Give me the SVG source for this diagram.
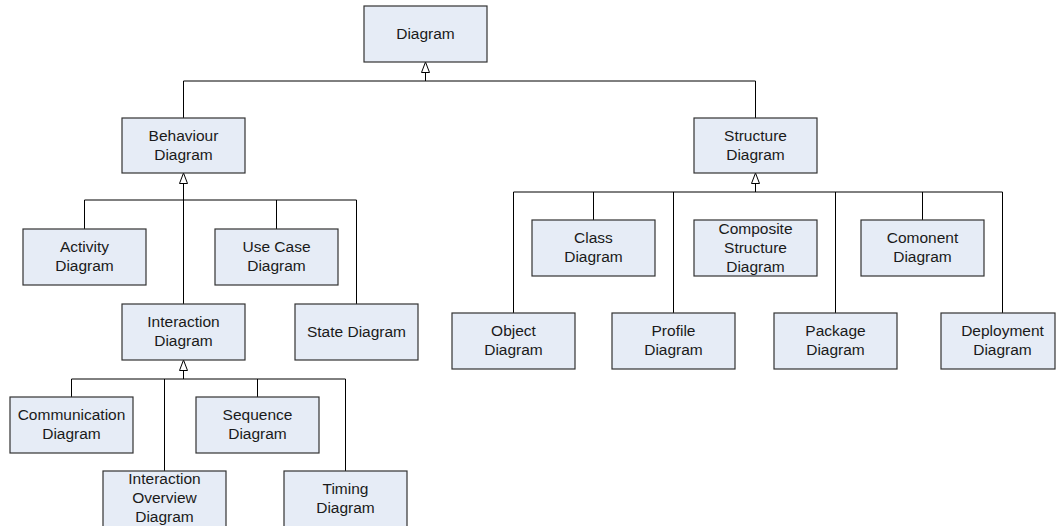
<svg xmlns="http://www.w3.org/2000/svg" width="1056" height="526" viewBox="0 0 1056 526">
  <style>
    .box { fill: #e6ecf6; stroke: #333333; stroke-width: 1.2; }
    .lbl { font-family: "Liberation Sans", Arial, sans-serif; font-size: 15.5px; fill: #1a1a1a; text-anchor: middle; }
    .wire { fill: none; stroke: #000000; stroke-width: 1; }
    .branch { fill: none; stroke: #000000; stroke-width: 1; }
  </style>
  <defs>
    <!-- hollow generalization arrowhead -->
    <marker id="gen" markerUnits="userSpaceOnUse" markerWidth="13" markerHeight="10" refX="11" refY="4.5" orient="auto" viewBox="0 0 13 10">
      <path d="M0.5,0.5 L11,4.5 L0.5,8.5 Z" fill="#ffffff" stroke="#000000" stroke-width="1"/>
    </marker>
  </defs>
  <rect width="1056" height="526" fill="#ffffff"/>

  <!-- connectors -->
  <g id="connectors">
    <!-- Diagram generalization tree -->
    <path class="wire" d="M425.5,81 L425.5,62" marker-end="url(#gen)"/>
    <path class="branch" d="M183.5,118 L183.5,81 L755.5,81 L755.5,118"/>

    <!-- Behaviour Diagram tree -->
    <path class="wire" d="M183.5,304 L183.5,173" marker-end="url(#gen)"/>
    <path class="branch" d="M84.5,229 L84.5,200 L356.5,200 L356.5,304"/>
    <path class="branch" d="M276.5,200 L276.5,229"/>

    <!-- Interaction Diagram tree -->
    <path class="wire" d="M183.5,379 L183.5,360" marker-end="url(#gen)"/>
    <path class="branch" d="M71.5,397 L71.5,379 L345.5,379 L345.5,471"/>
    <path class="branch" d="M164.5,379 L164.5,471"/>
    <path class="branch" d="M257.5,379 L257.5,397"/>

    <!-- Structure Diagram tree -->
    <path class="wire" d="M755.5,192 L755.5,173" marker-end="url(#gen)"/>
    <path class="branch" d="M513.5,313 L513.5,192 L1002.5,192 L1002.5,313"/>
    <path class="branch" d="M593.5,192 L593.5,220"/>
    <path class="branch" d="M673.5,192 L673.5,313"/>
    <path class="branch" d="M835.5,192 L835.5,313"/>
    <path class="branch" d="M922.5,192 L922.5,220"/>
  </g>

  <!-- nodes -->
  <g id="diagram">
    <rect class="box" x="364" y="6" width="123" height="56"/>
    <text class="lbl" x="425.5" y="39.4">Diagram</text>
  </g>

  <g id="behaviour">
    <rect class="box" x="122" y="118" width="123" height="55"/>
    <text class="lbl" x="183.5" y="141">Behaviour</text>
    <text class="lbl" x="183.5" y="160">Diagram</text>
  </g>

  <g id="structure">
    <rect class="box" x="694" y="118" width="123" height="55"/>
    <text class="lbl" x="755.5" y="141">Structure</text>
    <text class="lbl" x="755.5" y="160">Diagram</text>
  </g>

  <g id="activity">
    <rect class="box" x="23" y="229" width="123" height="56"/>
    <text class="lbl" x="84.5" y="252.4">Activity</text>
    <text class="lbl" x="84.5" y="271.4">Diagram</text>
  </g>

  <g id="use-case">
    <rect class="box" x="215" y="229" width="123" height="56"/>
    <text class="lbl" x="276.5" y="252.4">Use Case</text>
    <text class="lbl" x="276.5" y="271.4">Diagram</text>
  </g>

  <g id="interaction">
    <rect class="box" x="122" y="304" width="123" height="56"/>
    <text class="lbl" x="183.5" y="327.4">Interaction</text>
    <text class="lbl" x="183.5" y="346.4">Diagram</text>
  </g>

  <g id="state">
    <rect class="box" x="295" y="304" width="123" height="56"/>
    <text class="lbl" x="356.5" y="337.4">State Diagram</text>
  </g>

  <g id="communication">
    <rect class="box" x="10" y="397" width="123" height="56"/>
    <text class="lbl" x="71.5" y="420.4">Communication</text>
    <text class="lbl" x="71.5" y="439.4">Diagram</text>
  </g>

  <g id="sequence">
    <rect class="box" x="196" y="397" width="123" height="56"/>
    <text class="lbl" x="257.5" y="420.4">Sequence</text>
    <text class="lbl" x="257.5" y="439.4">Diagram</text>
  </g>

  <g id="interaction-overview">
    <rect class="box" x="103" y="471" width="123" height="56"/>
    <text class="lbl" x="164.5" y="484.4">Interaction</text>
    <text class="lbl" x="164.5" y="503.4">Overview</text>
    <text class="lbl" x="164.5" y="522.4">Diagram</text>
  </g>

  <g id="timing">
    <rect class="box" x="284" y="471" width="123" height="56"/>
    <text class="lbl" x="345.5" y="494.4">Timing</text>
    <text class="lbl" x="345.5" y="513.4">Diagram</text>
  </g>

  <g id="class">
    <rect class="box" x="532" y="220" width="123" height="56"/>
    <text class="lbl" x="593.5" y="243.4">Class</text>
    <text class="lbl" x="593.5" y="262.4">Diagram</text>
  </g>

  <g id="composite-structure">
    <rect class="box" x="694" y="220" width="123" height="56"/>
    <text class="lbl" x="755.5" y="234.4">Composite</text>
    <text class="lbl" x="755.5" y="253.4">Structure</text>
    <text class="lbl" x="755.5" y="272.4">Diagram</text>
  </g>

  <g id="component">
    <rect class="box" x="861" y="220" width="123" height="56"/>
    <text class="lbl" x="922.5" y="243.4">Comonent</text>
    <text class="lbl" x="922.5" y="262.4">Diagram</text>
  </g>

  <g id="object">
    <rect class="box" x="452" y="313" width="123" height="56"/>
    <text class="lbl" x="513.5" y="336.4">Object</text>
    <text class="lbl" x="513.5" y="355.4">Diagram</text>
  </g>

  <g id="profile">
    <rect class="box" x="612" y="313" width="123" height="56"/>
    <text class="lbl" x="673.5" y="336.4">Profile</text>
    <text class="lbl" x="673.5" y="355.4">Diagram</text>
  </g>

  <g id="package">
    <rect class="box" x="774" y="313" width="123" height="56"/>
    <text class="lbl" x="835.5" y="336.4">Package</text>
    <text class="lbl" x="835.5" y="355.4">Diagram</text>
  </g>

  <g id="deployment">
    <rect class="box" x="941" y="313" width="114" height="56"/>
    <text class="lbl" x="1002.5" y="336.4">Deployment</text>
    <text class="lbl" x="1002.5" y="355.4">Diagram</text>
  </g>
</svg>
